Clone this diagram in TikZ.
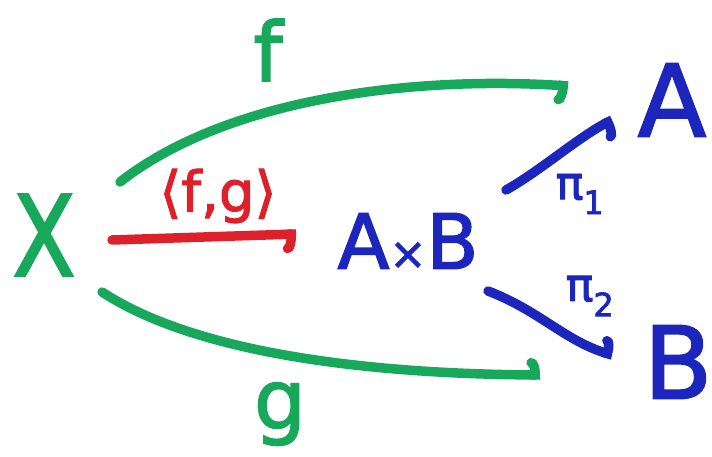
\documentclass[tikz,border=0pt]{standalone}
\usepackage{fontspec}
\setmainfont{DejaVu Sans}[FakeBold=2]
\usetikzlibrary{arrows.meta,calc}
\definecolor{mgreen}{RGB}{24,168,92}
\definecolor{mred}{RGB}{222,32,42}
\definecolor{mblue}{RGB}{28,38,188}
\tikzset{
  lbl/.style={inner sep=0pt},
  arr/.style={line width=9.5pt, line cap=round},
  hookdn/.style={-{Arc Barb[right,length=9pt,width=38pt,line cap=round]}},
  hookup/.style={-{Arc Barb[left,length=9pt,width=34pt,line cap=round]}},
}
\begin{document}
\begin{tikzpicture}[x=1pt,y=1pt]
\useasboundingbox (0,0) rectangle (712,456);
\fill[white] (0,0) rectangle (712,456);
% objects
\node[lbl, text=mgreen, font=\fontsize{112}{112}\selectfont] (X) at (44,221) {\scalebox{0.82}[1]{X}};
\node[lbl, text=mblue, font=\fontsize{76}{76}\selectfont] (AxB) at (408,215) {A{\fontsize{44}{44}\selectfont ×}B};
\node[lbl, text=mblue, font=\fontsize{100}{100}\selectfont] (A) at (672,356) {A};
\node[lbl, text=mblue, font=\fontsize{100}{100}\selectfont] (B) at (678,94) {B};
% labels
\node[lbl, text=mgreen, font=\fontsize{82}{82}\selectfont] (f) at (268,406) {f};
\node[lbl, text=mgreen, font=\fontsize{82}{82}\selectfont] (g) at (280,42) {g};
\node[lbl, text=mred, font=\fontsize{56}{56}\selectfont] (fg) at (218,260) {⟨f,g⟩};
\node[lbl, text=mblue, font=\fontsize{46}{46}\selectfont] (p1) at (580,262) {π\textsubscript{1}};
\node[lbl, text=mblue, font=\fontsize{46}{46}\selectfont] (p2) at (590,160) {π\textsubscript{2}};
% arrows
\draw[arr, mgreen, hookdn] ($(X)+(76,53)$) .. controls (230,360) and (420,380) .. ($(A)+(-104,14)$);
\draw[arr, mgreen, hookup] ($(X)+(58,-57)$) .. controls (200,100) and (380,82) .. ($(B)+(-138,-13)$);
\draw[arr, mred, hookdn] ($(X)+(68,-5)$) -- ($(AxB)+(-112,7)$);
\draw[arr, mblue, hookdn] ($(AxB)+(98,51)$) .. controls (540,285) and (580,320) .. ($(A)+(-60,-20)$);
\draw[arr, mblue, hookup] ($(AxB)+(80,-50)$) .. controls (540,145) and (565,115) .. ($(B)+(-66,7)$);
\end{tikzpicture}
\end{document}
